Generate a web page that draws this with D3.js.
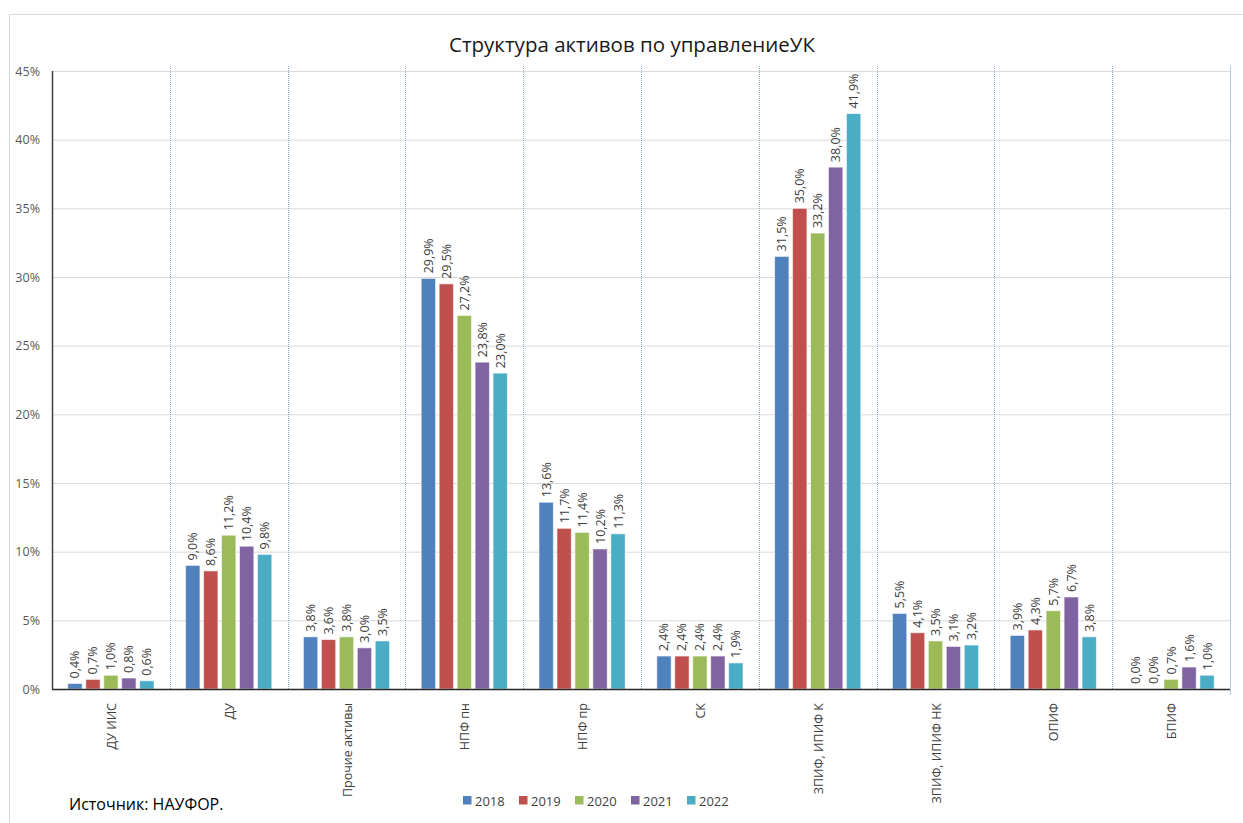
<!DOCTYPE html>
<html><head><meta charset="utf-8">
<script src="https://cdn.jsdelivr.net/npm/d3@7"></script>
<style>body{margin:0;background:#fff;font-family:"Open Sans",sans-serif;}</style>
</head><body><svg id="c" width="1243" height="823"></svg>
<script>
const categories = ["ДУ ИИС","ДУ","Прочие активы","НПФ пн","НПФ пр","СК","ЗПИФ, ИПИФ К","ЗПИФ, ИПИФ НК","ОПИФ","БПИФ"];
const years = ["2018","2019","2020","2021","2022"];
const s2018 = [0.4, 9.0, 3.8, 29.9, 13.6, 2.4, 31.5, 5.5, 3.9, 0.0];
const s2019 = [0.7, 8.6, 3.6, 29.5, 11.7, 2.4, 35.0, 4.1, 4.3, 0.0];
const s2020 = [1.0, 11.2, 3.8, 27.2, 11.4, 2.4, 33.2, 3.5, 5.7, 0.7];
const s2021 = [0.8, 10.4, 3.0, 23.8, 10.2, 2.4, 38.0, 3.1, 6.7, 1.6];
const s2022 = [0.6, 9.8, 3.5, 23.0, 11.3, 1.9, 41.9, 3.2, 3.8, 1.0];
const yTicks = [0,5,10,15,20,25,30,35,40,45];
const colors = ["#4F81BD","#C0504D","#9BBB59","#8064A2","#4BACC6"];
const series = [s2018,s2019,s2020,s2021,s2022];

const svg = d3.select("#c");
const L=52, R=1230, T=71, B=689;
svg.append("rect").attr("x",9.5).attr("y",14.5).attr("width",1240).attr("height",820).attr("fill","none").attr("stroke","#d9d9d9");

const x0 = d3.scaleBand().domain(categories).range([L,R]).paddingInner(0).paddingOuter(0);
const x1 = d3.scaleBand().domain(years).range([14, x0.bandwidth()-14]).paddingInner(0.2).paddingOuter(0.1);
const y = d3.scaleLinear().domain([0,45]).range([B,T]);
const fmt = v => d3.format(".1f")(v).replace(".",",")+"%";

// gridlines
svg.append("g").selectAll("line").data(yTicks.filter(d=>d>0)).join("line")
  .attr("x1",L).attr("x2",R).attr("y1",d=>y(d)+0.5).attr("y2",d=>y(d)+0.5)
  .attr("stroke","#d9d9d9").attr("stroke-width",1);
// y tick labels
svg.append("g").selectAll("text").data(yTicks).join("text")
  .attr("x",40).attr("y",d=>y(d)+4.5).attr("text-anchor","end")
  .attr("font-size",12.5).attr("fill","#595959").text(d=>d+"%");
// dividers
svg.append("g").selectAll("line").data(categories.slice(1)).join("line")
  .attr("x1",d=>Math.round(x0(d))+0.5).attr("x2",d=>Math.round(x0(d))+0.5)
  .attr("y1",66).attr("y2",B)
  .attr("stroke","#8eaadb").attr("stroke-width",1).attr("stroke-dasharray","1,1");
svg.append("line").attr("x1",R+0.5).attr("x2",R+0.5).attr("y1",66).attr("y2",695).attr("stroke","#b4c7e7");

// bars
const g = svg.append("g");
categories.forEach((c,i)=>{
  years.forEach((yr,j)=>{
    const v = series[j][i];
    const bx = x0(c)+x1(yr);
    g.append("rect").attr("x",bx).attr("y",y(v)).attr("width",x1.bandwidth()).attr("height",B-y(v))
      .attr("fill",colors[j]).attr("stroke","#ffffff").attr("stroke-opacity",0.6).attr("stroke-width",1);
    const cx = bx + x1.bandwidth()/2 + 4.5;
    const ty = y(v) - 5;
    g.append("text").attr("transform",`translate(${cx},${ty}) rotate(-90)`)
      .attr("font-size",12.5).attr("fill","#404040").text(fmt(v));
  });
});

// axes lines
svg.append("line").attr("x1",L).attr("x2",R).attr("y1",B+0.5).attr("y2",B+0.5).attr("stroke","#262626").attr("stroke-width",1.5);
svg.append("line").attr("x1",L+0.5).attr("x2",L+0.5).attr("y1",T).attr("y2",B).attr("stroke","#404040").attr("stroke-width",1.5);

// category labels
svg.append("g").selectAll("text").data(categories).join("text")
  .attr("transform",d=>`translate(${x0(d)+x0.bandwidth()/2+5},703) rotate(-90)`)
  .attr("text-anchor","end").attr("font-size",12.5).attr("fill","#404040").text(d=>d);

// title
svg.append("text").attr("x",632).attr("y",52).attr("text-anchor","middle")
  .attr("font-size",20.5).attr("fill","#1a1a1a").text("Структура активов по управлениеУК");

// legend
const lg = svg.append("g");
years.forEach((yr,j)=>{
  const lx = 463 + j*56;
  lg.append("rect").attr("x",lx).attr("y",796).attr("width",8.5).attr("height",8.5).attr("fill",colors[j]);
  lg.append("text").attr("x",lx+12).attr("y",805.5).attr("font-size",13).attr("fill","#404040").text(yr);
});

// source
svg.append("text").attr("x",69).attr("y",810).attr("font-size",16).attr("fill","#000").text("Источник: НАУФОР.");
</script></body></html>
